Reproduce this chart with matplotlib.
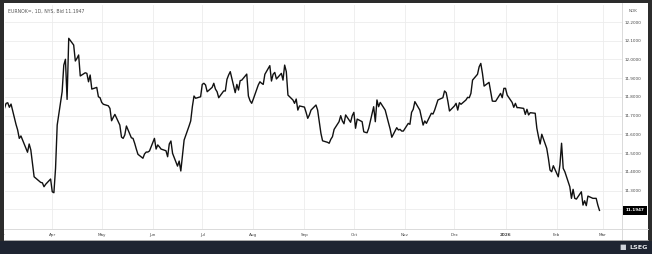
import numpy as np
import pandas as pd
import matplotlib
matplotlib.use("Agg")
import matplotlib.pyplot as plt
import matplotlib.dates as mdates
from matplotlib.patches import Rectangle
from matplotlib.lines import Line2D

# EURNOK daily bid (one value per business day from 3 Mar 2025)
start_day = "2025-03-03"
values = [
    11.739, 11.766, 11.769, 11.745, 11.762, 11.654, 11.624, 11.579, 11.592, 11.570,
    11.505, 11.549, 11.517, 11.446, 11.374, 11.351, 11.344, 11.342, 11.321, 11.334,
    11.362, 11.294, 11.289, 11.419, 11.650, 11.828, 11.970, 12.001, 11.787, 12.113,
    12.077, 11.992, 12.006, 12.024, 11.912, 11.929, 11.926, 11.881, 11.917, 11.842,
    11.851, 11.801, 11.796, 11.771, 11.761, 11.753, 11.739, 11.673, 11.691, 11.707,
    11.650, 11.586, 11.579, 11.597, 11.645, 11.582, 11.579, 11.553, 11.522, 11.494,
    11.473, 11.496, 11.506, 11.506, 11.512, 11.579, 11.522, 11.544, 11.534, 11.522,
    11.513, 11.481, 11.549, 11.565, 11.499, 11.431, 11.458, 11.405, 11.490, 11.570,
    11.645, 11.672, 11.748, 11.805, 11.793, 11.801, 11.867, 11.873, 11.864, 11.828,
    11.851, 11.873, 11.842, 11.828, 11.796, 11.832, 11.832, 11.894, 11.917, 11.935,
    11.823, 11.867, 11.837, 11.887, 11.890, 11.922, 11.805, 11.780, 11.766, 11.789,
    11.864, 11.881, 11.873, 11.867, 11.921, 11.967, 11.885, 11.921, 11.931, 11.896, 11.926,
    11.890, 11.970, 11.935, 11.810, 11.784, 11.766, 11.789,
    11.730, 11.752, 11.746, 11.718, 11.686, 11.704, 11.730, 11.757, 11.730, 11.668,
    11.606, 11.566, 11.558, 11.553, 11.574, 11.588, 11.627, 11.668, 11.700, 11.672,
    11.657, 11.704, 11.665, 11.700, 11.718, 11.633, 11.682, 11.668, 11.614, 11.611,
    11.609, 11.633, 11.748, 11.668, 11.784, 11.748, 11.771, 11.730, 11.695, 11.662,
    11.629, 11.585, 11.636, 11.624, 11.627, 11.618, 11.618, 11.659, 11.654, 11.718,
    11.734, 11.775, 11.730, 11.689, 11.650, 11.672, 11.659, 11.713,
    11.709, 11.730, 11.757, 11.784, 11.796, 11.832, 11.823, 11.778, 11.725, 11.752, 11.766,
    11.730, 11.769, 11.761, 11.784, 11.798, 11.796, 11.819, 11.890, 11.921, 11.961,
    11.979, 11.926, 11.858, 11.878, 11.828, 11.778, 11.777, 11.777, 11.819, 11.796,
    11.846, 11.846, 11.810, 11.771, 11.745, 11.766, 11.743,
    11.743, 11.739, 11.707, 11.734, 11.704, 11.716, 11.713, 11.633, 11.588, 11.549,
    11.601, 11.526, 11.473, 11.410, 11.401, 11.433, 11.374, 11.437, 11.553, 11.419,
    11.401, 11.321, 11.259, 11.307, 11.259, 11.255, 11.294, 11.223, 11.246, 11.220,
    11.271, 11.259, 11.259, 11.259, 11.223, 11.1947,
]
dates = pd.bdate_range(start_day, periods=len(values))

month_ticks = pd.date_range("2025-04-01", "2026-03-01", freq="MS")
month_labels = ["Apr", "May", "Jun", "Jul", "Aug", "Sep", "Oct", "Nov", "Dec", "2026", "Feb", "Mar"]
y_ticks = [11.2, 11.3, 11.4, 11.5, 11.6, 11.7, 11.8, 11.9, 12.0, 12.1, 12.2]
title = "EURNOK=, 1D, NYS, Bid 11.1947"
last_label = "11.1947"

W, H = 652, 254
fig = plt.figure(figsize=(W / 100, H / 100), dpi=100)
fig.patch.set_facecolor("#2c2c2c")

def fx(px):
    return px / W

def fy(py):
    return 1 - py / H

# white panel and dark bottom bar
fig.add_artist(Rectangle((fx(4), fy(241)), fx(644), 238 / H, transform=fig.transFigure,
                         fc="white", ec="none", zorder=0))
fig.add_artist(Rectangle((0, 0), 1, 13 / H, transform=fig.transFigure,
                         fc="#1e2431", ec="none", zorder=0))

ax = fig.add_axes([fx(5), fy(229), fx(617), 224.5 / H])
ax.set_facecolor("white")
ax.plot(dates, values, color="#111111", lw=1.0, solid_joinstyle="round")

ax.set_xlim(pd.Timestamp("2025-03-03 08:00"), pd.Timestamp("2026-03-12 16:00"))
ax.set_ylim(11.0954, 12.2934)

ax.set_xticks(month_ticks)
ax.set_xticklabels(month_labels)
for lab in ax.get_xticklabels():
    if lab.get_text() == "2026":
        lab.set_fontweight("bold")
ax.tick_params(axis="x", length=0, pad=2.7, labelsize=3, labelcolor="#444444")

ax.yaxis.tick_right()
ax.set_yticks(y_ticks)
ax.set_yticklabels(["" if t == 11.2 else f"{t:.4f}" for t in y_ticks])
ax.tick_params(axis="y", length=0, pad=2.2, labelsize=3, labelcolor="#444444")

ax.grid(True, color="#ececec", lw=0.6)
ax.set_axisbelow(True)
for s in ax.spines.values():
    s.set_visible(False)

# current price tag
ax.text(1.006, values[-1], last_label, transform=ax.get_yaxis_transform(),
        color="white", fontsize=3, va="center", ha="left", fontweight="bold",
        bbox=dict(boxstyle="square,pad=0.55", fc="black", ec="none"), clip_on=False)

# frame lines
line_col = "#d4d4d4"
fig.add_artist(Line2D([fx(622), fx(622)], [fy(3), fy(240)], color=line_col, lw=0.6))
fig.add_artist(Line2D([fx(4), fx(648)], [fy(229), fy(229)], color=line_col, lw=0.6))
fig.add_artist(Line2D([fx(4), fx(648)], [fy(240), fy(240)], color="#9a9a9a", lw=0.6))

fig.text(fx(8), fy(11), title, fontsize=3.3, color="#555555", va="center", ha="left")
fig.text(fx(633), fy(11), "NOK", fontsize=3, color="#555555", va="center", ha="center")
fig.text(fx(1.5), fy(234.7), "Mar", fontsize=3, color="#444444", va="center", ha="center")
fig.add_artist(Rectangle((0, fy(241)), fx(4), 238 / H, transform=fig.transFigure,
                         fc="#2c2c2c", ec="none", zorder=5))

# LSEG mark in the bottom bar
fig.text(fx(623), fy(247.5), "\u25a0", fontsize=5, color="#cfd3da", va="center", ha="center")
fig.text(fx(629), fy(247.5), "LSEG", fontsize=4.6, color="#e6e8ec", va="center",
         ha="left", fontweight="bold")

fig.savefig("out.png", dpi=100, facecolor=fig.get_facecolor())
